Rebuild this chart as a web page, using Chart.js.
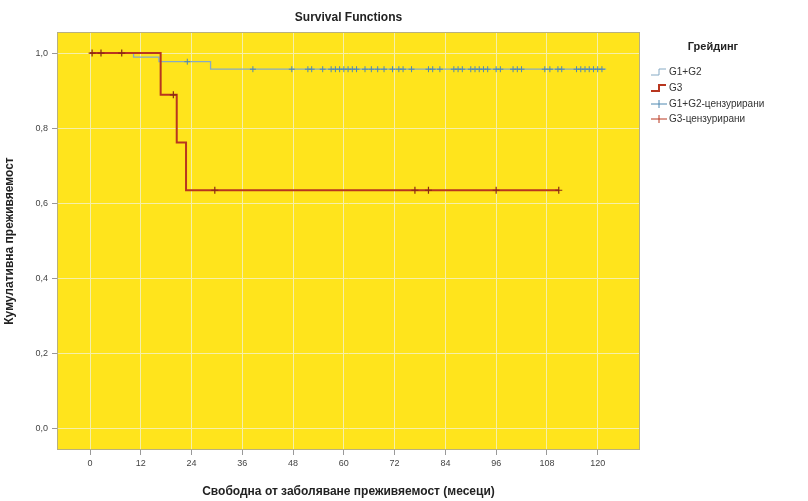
<!DOCTYPE html>
<html>
<head>
<meta charset="utf-8">
<script src="https://cdn.jsdelivr.net/npm/chart.js@4.4.1/dist/chart.umd.min.js"></script>
<style>
  html, body { margin: 0; padding: 0; background: #fff; }
  #wrap { width: 808px; height: 501px; }
</style>
</head>
<body>
<div id="wrap"><canvas id="km"></canvas></div>
<script>
const xTicks = [0, 12, 24, 36, 48, 60, 72, 84, 96, 108, 120];
const yTicks = [0, 0.2, 0.4, 0.6, 0.8, 1.0];

// Kaplan-Meier steps (time, survival after the step)
const g12Times = [0, 10.3, 16.3, 28.5, 122];
const g12Surv = [1, 0.989, 0.977, 0.957, 0.957];
const g3Times = [0, 16.7, 20.5, 22.7, 110.8];
const g3Surv = [1, 0.889, 0.762, 0.635, 0.635];

// censored times
const g12Censored = [23, 38.5, 47.7, 51.5, 52.4, 55, 57, 58, 59, 60, 61, 62, 63, 65, 66.5, 68, 69.5,
  71.5, 73, 74, 76, 80, 81, 82.7, 86, 87, 88, 90, 91, 92, 93, 94, 96, 97, 100, 101, 102,
  107.5, 108.7, 110.6, 111.5, 115, 116, 117, 118, 119, 120, 121];
const g3Censored = [0.5, 2.6, 7.5, 19.7, 29.5, 76.8, 80, 96, 110.8];

const seriesNames = ["G1+G2", "G3", "G1+G2-цензурирани", "G3-цензурирани"];
const blue = "#86aac4";
const blueMark = "#4f88b0";
const red = "#b8361f";

const FONT = "'Liberation Sans Narrow', 'Arial Narrow', 'Liberation Sans', sans-serif";

function survAt(times, surv, t) {
  let s = surv[0];
  for (let i = 0; i < times.length; i++) {
    if (times[i] <= t) s = surv[i];
  }
  return s;
}

const toPts = (times, surv) => times.map((t, i) => ({ x: t, y: surv[i] }));
const censPts = (cens, times, surv) => cens.map(t => ({ x: t, y: survAt(times, surv, t) }));

const frame = {
  id: "frame",
  beforeDraw(chart) {
    const { ctx, chartArea: a } = chart;
    ctx.save();
    ctx.fillStyle = "#ffe41c";
    ctx.fillRect(a.left, a.top, a.width, a.height);
    ctx.restore();
  },
  afterDraw(chart) {
    const { ctx, chartArea: a } = chart;
    ctx.save();
    ctx.strokeStyle = "#b8b080";
    ctx.lineWidth = 1;
    ctx.strokeRect(a.left + 0.5, a.top + 0.5, a.width - 1, a.height - 1);

    // title
    ctx.fillStyle = "#222";
    ctx.font = "bold 12px " + FONT;
    ctx.textAlign = "center";
    ctx.textBaseline = "middle";
    ctx.fillText("Survival Functions", (a.left + a.right) / 2, 18);

    // legend
    const lx = 651;
    ctx.font = "bold 11px " + FONT;
    ctx.fillText("Грейдинг", 713, 47);
    ctx.textAlign = "left";
    ctx.font = "10px " + FONT;
    const rows = [72, 88, 104, 119];
    const cols = [blue, red, blueMark, red];
    rows.forEach((y, i) => {
      ctx.strokeStyle = cols[i];
      ctx.lineWidth = i === 1 ? 2 : 1;
      ctx.beginPath();
      if (i < 2) {
        ctx.moveTo(lx, y + 3);
        ctx.lineTo(lx + 8, y + 3);
        ctx.lineTo(lx + 8, y - 3);
        ctx.lineTo(lx + 15, y - 3);
      } else {
        ctx.moveTo(lx, y);
        ctx.lineTo(lx + 16, y);
        ctx.moveTo(lx + 8, y - 4);
        ctx.lineTo(lx + 8, y + 4);
      }
      ctx.stroke();
      ctx.fillStyle = "#333";
      ctx.fillText(seriesNames[i], lx + 18, y);
    });
    ctx.restore();
  }
};

new Chart(document.getElementById("km"), {
  type: "line",
  data: {
    datasets: [
      {
        label: seriesNames[3],
        data: censPts(g3Censored, g3Times, g3Surv),
        showLine: false,
        pointStyle: "cross",
        pointRadius: 3.5,
        borderColor: "#8a2a14",
        borderWidth: 1.2,
        order: 0
      },
      {
        label: seriesNames[1],
        data: toPts(g3Times, g3Surv),
        stepped: "before",
        borderColor: red,
        borderWidth: 2,
        pointRadius: 0,
        order: 1
      },
      {
        label: seriesNames[2],
        data: censPts(g12Censored, g12Times, g12Surv),
        showLine: false,
        pointStyle: "cross",
        pointRadius: 3,
        borderColor: blueMark,
        borderWidth: 1,
        order: 2
      },
      {
        label: seriesNames[0],
        data: toPts(g12Times, g12Surv),
        stepped: "before",
        borderColor: blue,
        borderWidth: 1.3,
        pointRadius: 0,
        order: 3
      }
    ]
  },
  options: {
    responsive: true,
    maintainAspectRatio: false,
    animation: false,
    layout: { padding: { top: 32, right: 168, left: 0, bottom: 0 } },
    plugins: {
      legend: { display: false },
      title: { display: false },
      tooltip: { enabled: false }
    },
    scales: {
      x: {
        type: "linear",
        min: -7.8,
        max: 130,
        afterBuildTicks: s => { s.ticks = xTicks.map(v => ({ value: v })); },
        afterFit: s => { s.height = 51; },
        ticks: {
          color: "#444",
          font: { size: 9, family: FONT },
          padding: 3,
          maxRotation: 0,
          callback: v => String(v)
        },
        grid: { color: "#f5efa8", lineWidth: 1, tickLength: 5, tickColor: "#999" },
        border: { display: false },
        title: {
          display: true,
          text: "Свободна от заболяване преживяемост (месеци)",
          color: "#222",
          font: { size: 12, weight: "bold", family: FONT },
          padding: { top: 4, bottom: 2 }
        }
      },
      y: {
        min: -0.056,
        max: 1.056,
        afterBuildTicks: s => { s.ticks = yTicks.map(v => ({ value: v })); },
        afterFit: s => { s.width = 57; },
        ticks: {
          color: "#444",
          font: { size: 9, family: FONT },
          padding: 4,
          callback: v => v.toFixed(1).replace(".", ",")
        },
        grid: { color: "#f5efa8", lineWidth: 1, tickLength: 5, tickColor: "#999" },
        border: { display: false },
        title: {
          display: true,
          text: "Кумулативна преживяемост",
          color: "#222",
          font: { size: 12, weight: "bold", family: FONT },
          padding: { top: 2, bottom: 4 }
        }
      }
    }
  },
  plugins: [frame]
});
</script>
</body>
</html>
